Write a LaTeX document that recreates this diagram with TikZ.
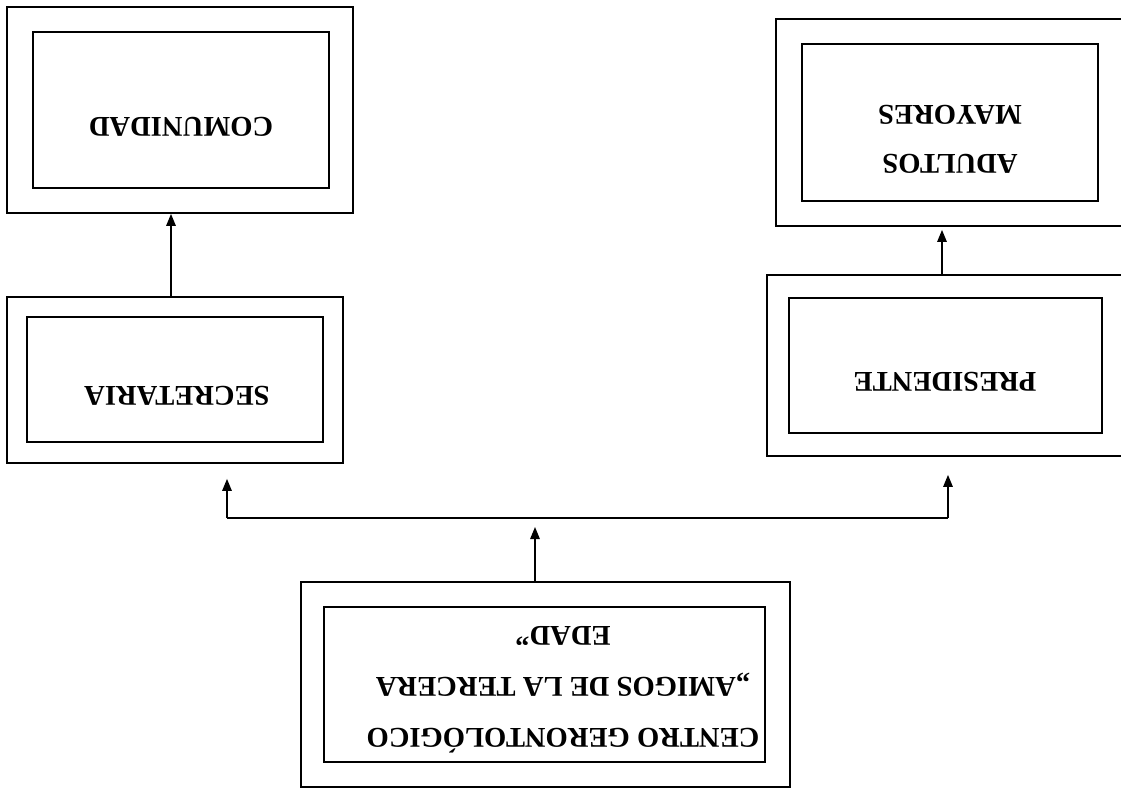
\documentclass[tikz,border=0pt]{standalone}
\usepackage{fontspec}
\setmainfont{Liberation Serif}
\usetikzlibrary{arrows.meta,calc}
\tikzset{
  boxline/.style={draw=black, line width=1.8pt, inner sep=0pt, fill=none},
  label28/.style={font=\bfseries\fontsize{28.6}{51}\selectfont, rotate=180, align=center, inner sep=0pt},
  conn/.style={draw=black, line width=1.4pt},
  arr/.style={conn, -{Triangle[length=12pt,width=9.5pt]}}
}
\begin{document}
\begin{tikzpicture}[x=1pt,y=-1pt]
\clip (0,0) rectangle (1121,789);
\fill[white] (0,0) rectangle (1121,789);
% COMUNIDAD
\node[boxline, minimum width=346, minimum height=206] (comO) at (180,110) {};
\node[boxline, minimum width=296, minimum height=156] (comI) at (181,110) {};
\node[label28] (comT) at (181,127) {COMUNIDAD};
% ADULTOS MAYORES
\node[boxline, minimum width=352, minimum height=207] (adO) at (952,122.5) {};
\node[boxline, minimum width=296, minimum height=157] (adI) at (950,122.5) {};
\node[label28] (adT1) at (950,164) {ADULTOS};
\node[label28] (adT2) at (950,115) {MAYORES};
% SECRETARIA
\node[boxline, minimum width=336, minimum height=166] (secO) at (175,380) {};
\node[boxline, minimum width=296, minimum height=125] (secI) at (175,379.5) {};
\node[label28] (secT) at (177,396) {SECRETARIA};
% PRESIDENTE
\node[boxline, minimum width=358, minimum height=181] (preO) at (946,365.5) {};
\node[boxline, minimum width=313, minimum height=135] (preI) at (945.5,365.5) {};
\node[label28] (preT) at (945,382) {PRESIDENTE};
% CENTRO
\node[boxline, minimum width=489, minimum height=205] (cenO) at (545.5,684.5) {};
\node[boxline, minimum width=441, minimum height=155] (cenI) at (544.5,684.5) {};
\node[label28] (cenT) at (563,690) {CENTRO GERONTOLÓGICO\\„AMIGOS DE LA TERCERA\\EDAD”};
% connectors
\draw[arr] ([xshift=-4pt]secO.north) -- ([xshift=-4pt]secO.north |- comO.south);
\draw[arr, shorten >=3pt] ([xshift=-4pt]preO.north) -- ([xshift=-4pt]preO.north |- adO.south);
\coordinate (hl) at (227,518);
\coordinate (hr) at (948,518);
\draw[conn] (hl) -- (hr);
\draw[arr, shorten >=15pt] (hl) -- (hl |- secO.south);
\draw[arr, shorten >=18pt] (hr) -- (hr |- preO.south);
\coordinate (mt) at (535,527);
\draw[arr] ([xshift=-10.5pt]cenO.north) -- (mt);
\end{tikzpicture}
\end{document}
